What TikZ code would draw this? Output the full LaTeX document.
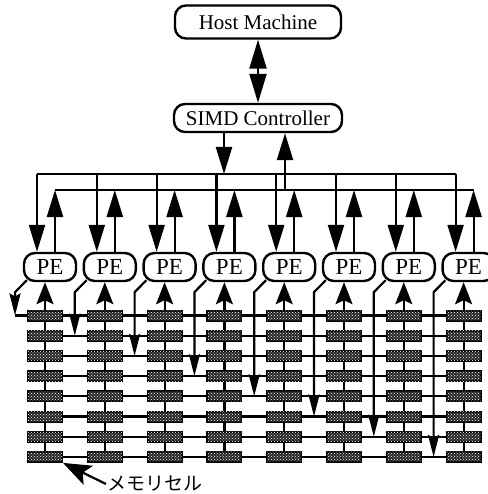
\documentclass[tikz,border=0pt]{standalone}
\usepackage{fontspec}
\setmainfont{Liberation Serif}
\newfontfamily\jpfont{Noto Sans CJK JP}
\usetikzlibrary{arrows.meta,patterns,calc}

\begin{document}
\begin{tikzpicture}
        [x=1pt, y=-1pt,
        line width=2.2pt,
        font=\fontsize{21}{24}\selectfont,
        unit/.style={rectangle, draw, rounded corners=11pt, line width=2.4pt, inner sep=0pt},
        pe/.style={unit, minimum width=52pt, minimum height=28pt, font=\fontsize{23}{26}\selectfont},
        cell/.style={rectangle, draw, line width=2pt, minimum width=34pt, minimum height=10pt,
            inner sep=0pt, fill=black!85, postaction={pattern=crosshatch dots, pattern color=white}},
        big/.style={-{Triangle[length=27pt, width=16pt]}},
        back/.style={-{Stealth[length=22pt, width=11pt, inset=3pt]}},
        read/.style={-{Stealth[length=22pt, width=17pt, inset=4pt]}},]

        \useasboundingbox (0,0) rectangle (487,494);

        \node[unit, minimum width=166pt, minimum height=33pt] (host) at (258,22) {Host Machine};
        \node[unit, minimum width=168pt, minimum height=28pt] (simd) at (258,118) {SIMD Controller};
        \draw[{Triangle[length=29pt, width=17pt]}-{Triangle[length=29pt, width=17pt]}] (host) -- (simd);

        \coordinate (busin) at (224,174);
        \coordinate (busout) at (285,190);
        \draw[big] (simd.south -| busin) -- (busin);
        \draw[big] (busout) -- (simd.south -| busout);

        \foreach \i in {0,...,7} {
            \pgfmathsetmacro{\cx}{45+59.8*\i}
            \pgfmathsetmacro{\ry}{315.5+20.2*\i}
            \pgfmathsetmacro{\rx}{\i==0 ? 15 : 45}
            \node[pe] (pe\i) at (\cx+5,267) {PE};
            \coordinate (in\i) at (\cx-8,174);
            \coordinate (out\i) at (\cx+10,190);
            \coordinate (col\i) at (\cx,457);
            \coordinate (tap\i) at (\cx-30,\ry);
            \coordinate (rowbeg\i) at (\rx,\ry);
            \coordinate (rowend\i) at (482,\ry);
            \draw[big] (in\i) -- (in\i |- pe\i.north);
            \draw[big] (out\i |- pe\i.north) -- (out\i);
            \draw[read] (col\i) -- (col\i |- pe\i.south);
            \draw (rowbeg\i) -- (rowend\i);
            \draw[back] ($(pe\i.south west)+(4,-2)$) -- ($(tap\i |- pe\i.south)+(0,10)$) -- (tap\i);
        }
        \draw (in0) -- (in7);
        \draw (out0) -- (out7);

        \foreach \i in {0,...,7} {
            \foreach \r in {0,...,7} {
                \node[cell] (m\i\r) at ({45+59.8*\i},{315.5+20.2*\r}) {};
            }
        }

        \node[font=\jpfont\fontsize{19}{20}\selectfont, anchor=west, inner sep=0pt] (memcell) at (106,484) {メモリセル};
        \draw[-{Stealth[length=28pt, width=21pt, inset=6pt]}] (memcell.west) -- (m07.south east);

    \end{tikzpicture}
\end{document}
